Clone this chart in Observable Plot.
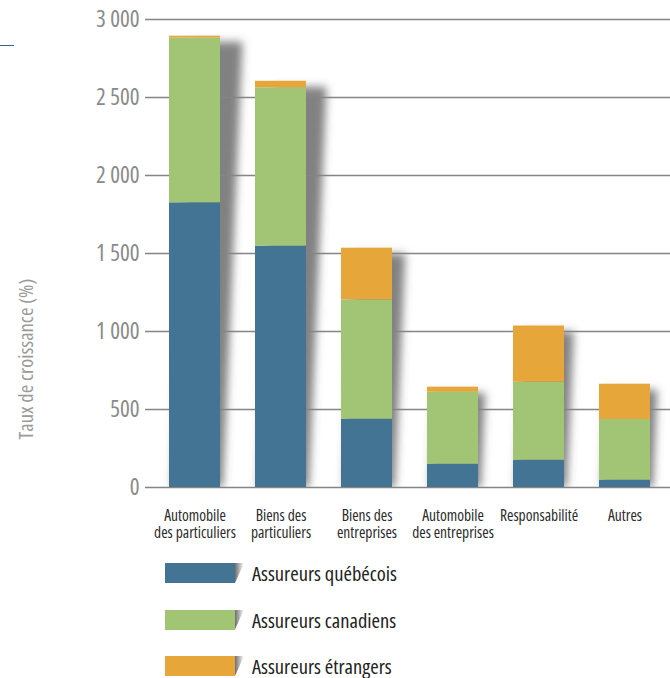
<!DOCTYPE html>
<html>
<head>
<meta charset="utf-8">
<script src="https://cdn.jsdelivr.net/npm/d3@7"></script>
<script src="https://cdn.jsdelivr.net/npm/@observablehq/plot@0.6"></script>
<style>
  html, body { margin: 0; padding: 0; background: #fff; }
  #wrap { position: relative; width: 670px; height: 678px; overflow: hidden;
          font-family: "Open Sans", sans-serif; font-stretch: condensed; }
  #chart { position: absolute; left: 0; top: 0; }
  #chart svg text { font-stretch: condensed; }
  #ytitle { position: absolute; left: 25px; top: 359px; transform: translate(-50%, -50%) rotate(-90deg);
            white-space: nowrap; font-size: 20.5px; color: #9a9a9a; }
  #topline { position: absolute; left: 0; top: 44.5px; width: 14px; height: 1.5px; background: #2a6598; }
  #legend { position: absolute; left: 165px; top: 563px; }
  .row { position: relative; height: 20px; margin-bottom: 26.5px; display: flex; align-items: center; }
  .sw { width: 70px; height: 20px; }
  .sh { position: absolute; left: 70px; top: 0; width: 9px; height: 20px;
        background: linear-gradient(to right, #6e6e6e, rgba(150,150,150,0));
        clip-path: polygon(0 0, 100% 0, 0 100%); }
  .lab { margin-left: 17px; font-size: 20.5px; color: #222; white-space: nowrap; line-height: 20px; }
</style>
</head>
<body>
<div id="wrap">
  <div id="chart"></div>
  <div id="topline"></div>
  <div id="ytitle"></div>
  <div id="legend"></div>
</div>
<script>
const categories = ["Automobile\ndes particuliers", "Biens des\nparticuliers", "Biens des\nentreprises",
                    "Automobile\ndes entreprises", "Responsabilité", "Autres"];
const series = ["Assureurs québécois", "Assureurs canadiens", "Assureurs étrangers"];
const quebecois = [1825, 1547, 438, 149, 175, 47];
const canadiens = [1057, 1015, 765, 462, 500, 389];
const etrangers = [11, 42, 331, 32, 360, 226];
const seriesColors = ["#437494", "#a1c475", "#e6a639"];
const yTicks = [0, 500, 1000, 1500, 2000, 2500, 3000];
const yTitle = "Taux de croissance (%)";

const valuesBySeries = [quebecois, canadiens, etrangers];
const rows = [];
series.forEach((s, si) => categories.forEach((c, ci) => rows.push({cat: c, series: s, value: valuesBySeries[si][ci]})));
const totals = categories.map((c, ci) => ({cat: c, total: quebecois[ci] + canadiens[ci] + etrangers[ci]}));

const plot = Plot.plot({
  width: 670,
  height: 545,
  marginLeft: 145,
  marginRight: 0,
  marginTop: 19,
  marginBottom: 58,
  style: {fontFamily: '"Open Sans", sans-serif', background: "transparent"},
  x: {domain: categories, range: [167.5, 652], paddingInner: 0.41, paddingOuter: 0, label: null},
  y: {domain: [0, 3000], label: null},
  color: {domain: series, range: seriesColors},
  marks: [
    Plot.barY(totals, {x: "cat", y: "total", fill: "#505050", fillOpacity: 0.72, dx: 3, insetTop: 6, clip: "frame"}),
    Plot.ruleY(yTicks, {stroke: "#858585", strokeWidth: 1.3}),
    Plot.barY(rows, Plot.stackY({x: "cat", y: "value", fill: "series", order: series})),
    Plot.axisY({ticks: yTicks, tickSize: 0, tickPadding: 6, fontSize: 23, fill: "#8a8a8a",
                tickFormat: d => d3.format(",")(d).replace(/,/g, " "), label: null}),
    Plot.axisX({tickSize: 0, tickPadding: 21, fontSize: 15.5, fill: "#2b2b2b", lineHeight: 1.1, label: null})
  ]
});
document.getElementById("chart").appendChild(plot);

// Perspective drop shadow behind bars: skew the totals bars around the baseline and blur them
const svgNS = "http://www.w3.org/2000/svg";
const defs = document.createElementNS(svgNS, "defs");
defs.innerHTML = '<filter id="shblur" x="-20%" y="-20%" width="140%" height="140%"><feGaussianBlur stdDeviation="4.5"/></filter>';
plot.insertBefore(defs, plot.firstChild);
const y0 = plot.scale("y").apply(0);
const shadowGroup = plot.querySelector('g[aria-label="bar"]');
shadowGroup.setAttribute("filter", "url(#shblur)");
shadowGroup.querySelectorAll("rect").forEach(r => {
  r.setAttribute("transform", `translate(0,${y0}) skewX(-2.5) translate(0,${-y0})`);
});

document.getElementById("ytitle").textContent = yTitle;
const legend = document.getElementById("legend");
series.forEach((s, i) => {
  const row = document.createElement("div");
  row.className = "row";
  row.innerHTML = `<div class="sw" style="background:${plot.scale("color").apply(s)}"></div><div class="sh"></div><div class="lab"></div>`;
  row.querySelector(".lab").textContent = s;
  legend.appendChild(row);
});
</script>
</body>
</html>
